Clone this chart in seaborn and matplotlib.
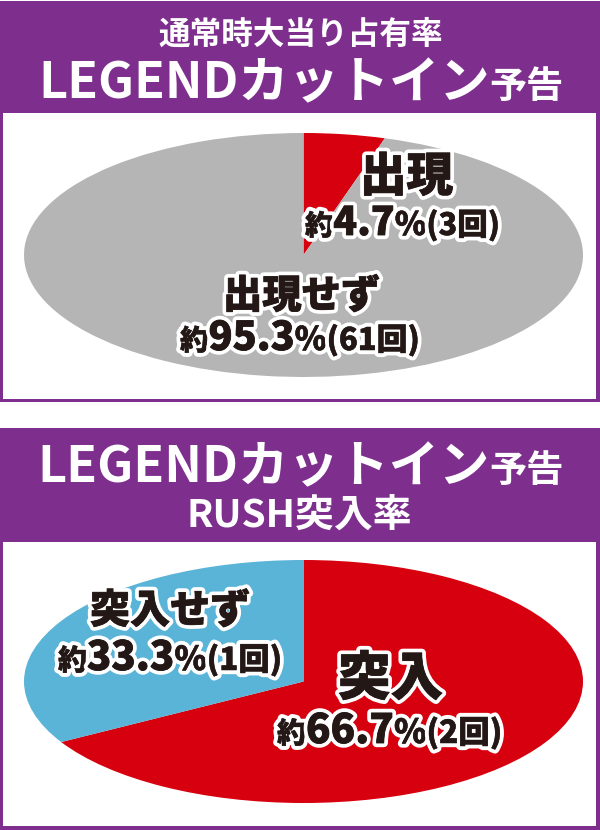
import matplotlib
matplotlib.use("Agg")
import matplotlib.pyplot as plt
import matplotlib.patheffects as pe
from matplotlib.patches import Rectangle
from matplotlib.transforms import IdentityTransform
import seaborn as sns

# ---------------- data ----------------
title1_top = "通常時大当り占有率"
title1_main = "LEGENDカットイン"
title1_suffix = "予告"
chart1_labels = ["出現", "出現せず"]
chart1_values = [4.7, 95.3]
chart1_counts = [3, 61]

title2_main = "LEGENDカットイン"
title2_suffix = "予告"
title2_bottom = "RUSH突入率"
chart2_labels = ["突入", "突入せず"]
chart2_values = [66.7, 33.3]
chart2_counts = [2, 1]

# ---------------- style ----------------
W, H, DPI = 600, 830, 100
PURPLE = "#7E2F8E"
RED = "#D7000F"
GRAY = "#B5B5B6"
BLUE = "#5AB4D7"
INK = "#231815"

sns.set_theme(style="white")
plt.rcParams["font.family"] = ["Noto Sans CJK JP", "DejaVu Sans"]

fig = plt.figure(figsize=(W / DPI, H / DPI), dpi=DPI)
fig.patch.set_facecolor("white")
R = fig.canvas.get_renderer()
ID = IdentityTransform()


def rect(x0, y0, x1, y1, color, z):
    fig.patches.append(Rectangle((x0, H - y1), x1 - x0, y1 - y0, transform=ID,
                                 facecolor=color, edgecolor="none", zorder=z))


def rich_line(segs, x0, x1, base_y, color, stroke=None, weight="bold"):
    texts = []
    for s, rel in segs:
        t = fig.text(0, 0, s, fontsize=20 * rel, color=color, fontweight=weight,
                     transform=ID, va="baseline", ha="left", zorder=10)
        if stroke:
            t.set_path_effects([pe.Stroke(linewidth=stroke, foreground="white"),
                                pe.Stroke(linewidth=0.6 * min(rel, 1.0) ** 2, foreground=color),
                                pe.Normal()])
        texts.append((t, rel))
    total = sum(t.get_window_extent(R).width for t, _ in texts)
    k = (x1 - x0) / total
    for t, rel in texts:
        t.set_fontsize(20 * rel * k)
    x = x0
    for t, rel in texts:
        t.set_position((x, H - base_y))
        x += t.get_window_extent(R).width


def pct_segs(value, count):
    return [("約", 0.72), (f"{value:.1f}", 1.0), ("%", 0.82), (f"({count}回)", 0.78)]


def pie_axes(x0, y0, x1, y1):
    ax = fig.add_axes([x0 / W, 1 - y1 / H, (x1 - x0) / W, (y1 - y0) / H])
    ax.set_zorder(2)
    return ax


# ---------------- panel frames ----------------
rect(0, 1, 600, 402, PURPLE, -3)
rect(3, 113, 596, 399, "white", -2)
rect(0, 428, 600, 830, PURPLE, -3)
rect(3, 542, 596, 826, "white", -2)

# ---------------- headers ----------------
rich_line([(title1_top, 1.0)], 158, 442, 44, "white")
rich_line([(title1_main, 1.0), (title1_suffix, 0.74)], 38, 563, 98, "white")
rich_line([(title2_main, 1.0), (title2_suffix, 0.74)], 37, 563, 482, "white")
rich_line([(title2_bottom, 1.0)], 187, 413, 527, "white")

# ---------------- pie 1 ----------------
ax1 = pie_axes(24, 133, 583, 377)
ax1.pie(chart1_values, colors=[RED, GRAY], startangle=90, counterclock=False,
        radius=1, wedgeprops=dict(linewidth=0))
ax1.set_xlim(-1, 1)
ax1.set_ylim(-1, 1)
ax1.set_aspect("auto")
ax1.axis("off")

rich_line([(chart1_labels[0], 1.0)], 360, 453, 191, INK, stroke=6, weight="black")
rich_line(pct_segs(chart1_values[0], chart1_counts[0]), 305, 500, 235, INK, stroke=6, weight="black")
rich_line([(chart1_labels[1], 1.0)], 223, 380, 308, INK, stroke=6, weight="black")
rich_line(pct_segs(chart1_values[1], chart1_counts[1]), 180, 420, 350, INK, stroke=6, weight="black")

# ---------------- pie 2 ----------------
ax2 = pie_axes(24, 560, 583, 803)
ax2.pie(chart2_values, colors=[RED, BLUE], startangle=90, counterclock=False,
        radius=1, wedgeprops=dict(linewidth=0))
ax2.set_xlim(-1, 1)
ax2.set_ylim(-1, 1)
ax2.set_aspect("auto")
ax2.axis("off")

rich_line([(chart2_labels[1], 1.0)], 90, 250, 623, INK, stroke=6, weight="black")
rich_line(pct_segs(chart2_values[1], chart2_counts[1]), 58, 282, 670, INK, stroke=6, weight="black")
rich_line([(chart2_labels[0], 1.0)], 338, 443, 695, INK, stroke=6, weight="black")
rich_line(pct_segs(chart2_values[0], chart2_counts[0]), 277, 502, 743, INK, stroke=6, weight="black")

fig.savefig("out.png", dpi=DPI, facecolor="white")
